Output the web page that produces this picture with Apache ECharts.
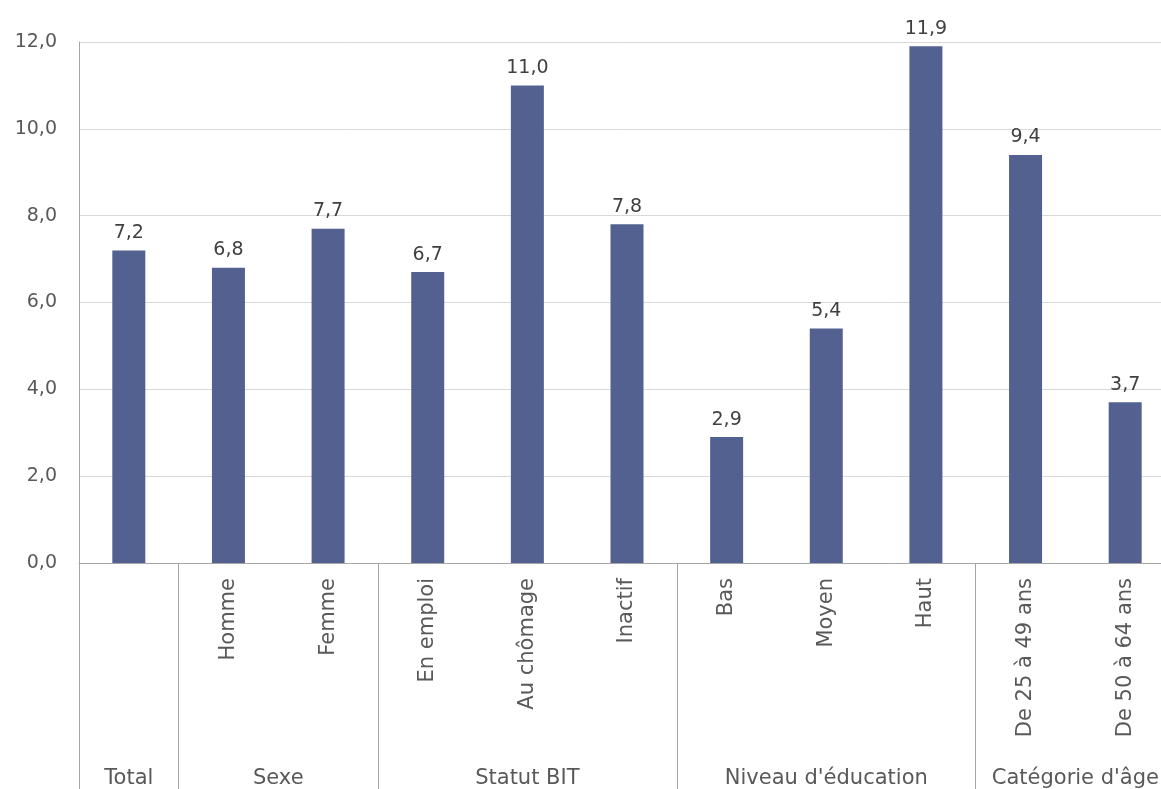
<!DOCTYPE html>
<html>
<head>
<meta charset="utf-8">
<script src="https://cdn.jsdelivr.net/npm/echarts@6/dist/echarts.min.js"></script>
<style>
  html, body { margin: 0; padding: 0; background: #fff; }
  #chart { width: 1161px; height: 789px; }
</style>
</head>
<body>
<div id="chart"></div>
<script>
var categories = ['', 'Homme', 'Femme', 'En emploi', 'Au chômage', 'Inactif', 'Bas', 'Moyen', 'Haut', 'De 25 à 49 ans', 'De 50 à 64 ans']
var values = [7.2, 6.8, 7.7, 6.7, 11.0, 7.8, 2.9, 5.4, 11.9, 9.4, 3.7]
var groupNames = ['Total', 'Sexe', 'Statut BIT', "Niveau d'éducation", "Catégorie d'âge"]
var groupBounds = [0, 1, 3, 6, 9, 11]
var yTicks = [0, 2, 4, 6, 8, 10, 12]

var groupCenters = groupNames.map(function(n, i) {
  return (groupBounds[i] + groupBounds[i + 1]) / 2
})

function fmt(v) {
  return Number(v).toFixed(1).replace('.', ',')
}

var font = 'DejaVu Sans'
var chart = echarts.init(document.getElementById('chart'))
chart.setOption({
  animation: false,
  grid: {
    left: 79,
    top: 42,
    width: 1096,
    height: 521,
    containLabel: false,
    outerBoundsMode: 'none'
  },
  xAxis: [{
    type: 'category',
    data: categories,
    axisLine: { show: true, lineStyle: { color: '#a6a6a6', width: 1 } },
    axisTick: { show: false },
    axisLabel: {
      rotate: 90,
      margin: 15,
      interval: 0,
      color: '#595959',
      fontSize: 21,
      fontFamily: font
    }
  }, {
    type: 'value',
    min: 0,
    max: 11,
    position: 'bottom',
    axisLine: { show: false },
    splitLine: { show: false },
    axisTick: {
      show: true,
      customValues: groupBounds,
      length: 230,
      lineStyle: { color: '#a6a6a6', width: 1 }
    },
    axisLabel: {
      customValues: groupCenters,
      margin: 205,
      color: '#595959',
      fontSize: 21,
      fontFamily: font,
      formatter: function(v) {
        var i = groupCenters.indexOf(v)
        return i >= 0 ? groupNames[i] : ''
      }
    }
  }],
  yAxis: {
    type: 'value',
    min: yTicks[0],
    max: yTicks[yTicks.length - 1],
    interval: 2,
    axisLine: { show: true, lineStyle: { color: '#a6a6a6', width: 1 } },
    axisTick: { show: false },
    splitLine: { lineStyle: { color: '#d9d9d9', width: 1 } },
    axisLabel: {
      margin: 22,
      color: '#595959',
      fontSize: 19,
      fontFamily: font,
      formatter: fmt
    }
  },
  series: [{
    type: 'bar',
    data: values,
    barWidth: 33,
    itemStyle: { color: '#536191' },
    label: {
      show: true,
      position: 'top',
      distance: 8,
      color: '#404040',
      fontSize: 19,
      fontFamily: font,
      formatter: function(p) { return fmt(p.value) }
    }
  }]
})
</script>
</body>
</html>
